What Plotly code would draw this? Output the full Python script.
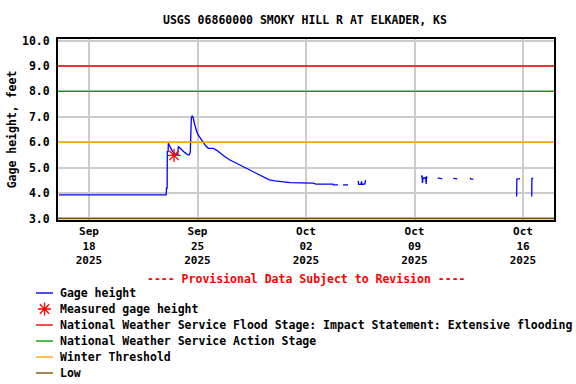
import plotly.graph_objects as go

# ---------------- data ----------------
gage_time = [
    "2025-09-16 01:30", "2025-09-16 14:00", "2025-09-16 14:15", "2025-09-16 15:30", "2025-09-16 15:45",
    "2025-09-19 14:00", "2025-09-19 14:15", "2025-09-19 14:45", "2025-09-19 15:00",
    "2025-09-22 23:30", "2025-09-23 00:00", "2025-09-23 01:00", "2025-09-23 01:15", "2025-09-23 02:30",
    "2025-09-23 02:50", "2025-09-23 04:30", "2025-09-23 08:00", "2025-09-23 10:00", "2025-09-23 13:00",
    "2025-09-23 16:15", "2025-09-23 17:30", "2025-09-23 18:15", "2025-09-23 23:30", "2025-09-24 04:30",
    "2025-09-24 09:20", "2025-09-24 11:20", "2025-09-24 12:55", "2025-09-24 14:25", "2025-09-24 15:50",
    "2025-09-24 17:30", "2025-09-24 18:30", "2025-09-24 20:40", "2025-09-24 22:45", "2025-09-25 01:15",
    "2025-09-25 03:50", "2025-09-25 06:30", "2025-09-25 09:00", "2025-09-25 12:40", "2025-09-25 16:45",
    "2025-09-26 00:30", "2025-09-26 05:45", "2025-09-26 10:50", "2025-09-26 18:30", "2025-09-27 02:20",
    "2025-09-27 10:00", "2025-09-27 17:50", "2025-09-28 01:30", "2025-09-28 09:20", "2025-09-28 17:00",
    "2025-09-29 00:45", "2025-09-29 08:30", "2025-09-29 15:10", "2025-09-30 00:00", "2025-09-30 10:50",
    "2025-09-30 23:15", "2025-10-01 14:40", "2025-10-02 10:50", "2025-10-02 15:30", "2025-10-03 17:50",
    "2025-10-03 18:10", "2025-10-04 01:30", "2025-10-04 04:00",
    "2025-10-04 09:20", "2025-10-04 17:00", "2025-10-04 19:00",
    "2025-10-05 08:50", "2025-10-05 09:30", "2025-10-05 13:10", "2025-10-05 13:50", "2025-10-05 14:40",
    "2025-10-05 19:10", "2025-10-05 20:10", "2025-10-05 20:50", "2025-10-06 02:00",
    "2025-10-09 11:00", "2025-10-09 11:40", "2025-10-09 12:20", "2025-10-09 13:10", "2025-10-09 15:40",
    "2025-10-09 17:10", "2025-10-09 18:00", "2025-10-09 18:40", "2025-10-09 19:10", "2025-10-09 22:00",
    "2025-10-10 12:00", "2025-10-10 15:30", "2025-10-10 19:00", "2025-10-11 00:00",
    "2025-10-11 12:00", "2025-10-11 15:00", "2025-10-11 18:10", "2025-10-12 00:00",
    "2025-10-12 14:00", "2025-10-12 15:30", "2025-10-12 19:10", "2025-10-13 00:00",
    "2025-10-15 14:10", "2025-10-15 14:30", "2025-10-15 19:20", "2025-10-16 00:00",
    "2025-10-16 13:30", "2025-10-16 13:50", "2025-10-16 15:50",
]
gage_height = [
    3.93, 3.93, 3.95, 3.95, 3.93,
    3.93, 3.95, 3.95, 3.93,
    3.93, 4.19, 4.19, 5.63, 5.63,
    5.96, 5.85, 5.70, 5.62, 5.52,
    5.50, 5.50, 5.83, 5.70, 5.59,
    5.50, 5.50, 5.63, 6.95, 7.04,
    6.95, 6.81, 6.60, 6.42, 6.28,
    6.18, 6.08, 5.98, 5.86, 5.76,
    5.76, 5.68, 5.57, 5.43, 5.30,
    5.20, 5.11, 5.01, 4.91, 4.81,
    4.71, 4.62, 4.52, 4.48, 4.44,
    4.41, 4.40, 4.39, 4.35, 4.35,
    4.32, 4.32, None,
    4.32, 4.32, None,
    4.48, 4.34, 4.34, 4.46, 4.34,
    4.36, 4.49, 4.49, None,
    4.62, 4.70, 4.40, 4.60, 4.58,
    4.62, 4.36, 4.66, 4.58, None,
    4.60, 4.58, 4.56, None,
    4.58, 4.57, 4.56, None,
    4.60, 4.55, 4.55, None,
    3.86, 4.55, 4.57, None,
    3.86, 4.58, 4.58,
]

measured_time = ["2025-09-23 11:40"]
measured_height = [5.48]

x_start = "2025-09-16 00:00"
x_end = "2025-10-18 00:00"
flood_stage = 9.0
action_stage = 8.0
winter_threshold = 6.0
low_stage = 3.0
y_range = [2.94, 10.06]

series_names = [
    "Gage height",
    "Measured gage height",
    "National Weather Service Flood Stage: Impact Statement: Extensive flooding",
    "National Weather Service Action Stage",
    "Winter Threshold",
    "Low",
]
series_colors = ["#0000FF", "#FF0000", "#FF0000", "#00A000", "#FFA500", "#7F4F00"]

FONT = "DejaVu Sans Mono"
W, H = 576, 384
PLOT_L, PLOT_R, PLOT_T, PLOT_B = 58, 554, 39, 220

fig = go.Figure()

fig.add_trace(go.Scatter(x=gage_time, y=gage_height, mode="lines", name=series_names[0],
                         line=dict(color=series_colors[0], width=1.3), connectgaps=False,
                         showlegend=False))
fig.add_trace(go.Scatter(x=measured_time, y=measured_height, mode="markers", name=series_names[1],
                         marker=dict(symbol="asterisk-open", size=11, color=series_colors[1],
                                     line=dict(color=series_colors[1], width=1.3)),
                         showlegend=False))
for name, color, level in zip(series_names[2:], series_colors[2:],
                              [flood_stage, action_stage, winter_threshold, low_stage]):
    fig.add_trace(go.Scatter(x=[x_start, x_end], y=[level, level], mode="lines", name=name,
                             line=dict(color=color, width=1.4), showlegend=False))

# ---- legend drawn on a full-figure helper axis in pixel units ----
legend_rows = [293, 309, 325, 341, 357, 373]
annotations = []
for i, (name, color, row) in enumerate(zip(series_names, series_colors, legend_rows)):
    if i == 1:
        fig.add_trace(go.Scatter(x=[44.5], y=[row], xaxis="x2", yaxis="y2", mode="markers",
                                 marker=dict(symbol="asterisk-open", size=11, color=color,
                                             line=dict(color=color, width=1.3)),
                                 showlegend=False, hoverinfo="skip"))
    else:
        fig.add_trace(go.Scatter(x=[36, 53], y=[row, row], xaxis="x2", yaxis="y2", mode="lines",
                                 line=dict(color=color, width=1.4), showlegend=False,
                                 hoverinfo="skip"))
    annotations.append(dict(text=name, xref="x2", yref="y2", x=58, y=row, xanchor="left",
                            yanchor="middle", showarrow=False,
                            font=dict(family=FONT, size=11.5, color="black", weight="bold")))

annotations.append(dict(text="---- Provisional Data Subject to Revision ----", xref="x2", yref="y2",
                        x=306, y=279, xanchor="center", yanchor="middle", showarrow=False,
                        font=dict(family=FONT, size=11.5, color="#FF0000", weight="bold")))
annotations.append(dict(text="USGS 06860000 SMOKY HILL R AT ELKADER, KS", xref="x2", yref="y2",
                        x=305, y=20, xanchor="center", yanchor="middle", showarrow=False,
                        font=dict(family=FONT, size=11.5, color="black", weight="bold")))

fig.update_layout(
    width=W, height=H,
    margin=dict(l=0, r=0, t=0, b=0, autoexpand=False),
    paper_bgcolor="white", plot_bgcolor="rgba(0,0,0,0)",
    font=dict(family=FONT, size=11.5, color="black", weight="bold"),
    showlegend=False,
    annotations=annotations,
    xaxis=dict(domain=[PLOT_L / W, PLOT_R / W], anchor="y", type="date", range=[x_start, x_end],
               tick0="2025-09-18", dtick=7 * 86400000, tickformat="%b<br>%d<br>%Y",
               showgrid=True, gridcolor="#CCCCCC", gridwidth=1.5, showline=True, linecolor="black",
               linewidth=2, mirror=True, ticks="", zeroline=False,
               tickfont=dict(family=FONT, size=11, weight="bold")),
    yaxis=dict(domain=[1 - PLOT_B / H, 1 - PLOT_T / H], anchor="x", range=y_range, tick0=3, dtick=1,
               tickformat=".1f", showgrid=True, gridcolor="#CCCCCC", gridwidth=1.5, showline=True,
               linecolor="black", linewidth=2, mirror=True, ticks="", zeroline=False,
               ticklabelstandoff=4,
               title=dict(text="Gage height, feet", font=dict(family=FONT, size=11.5, weight="bold"),
                          standoff=3),
               tickfont=dict(family=FONT, size=11.5, weight="bold")),
    xaxis2=dict(domain=[0, 1], range=[0, W], visible=False, anchor="y2", fixedrange=True),
    yaxis2=dict(domain=[0, 1], range=[H, 0], visible=False, anchor="x2", fixedrange=True),
)

fig.write_html("out.html", config={"displayModeBar": False},
               post_script="document.body.style.margin='0';document.body.style.overflow='hidden';")
